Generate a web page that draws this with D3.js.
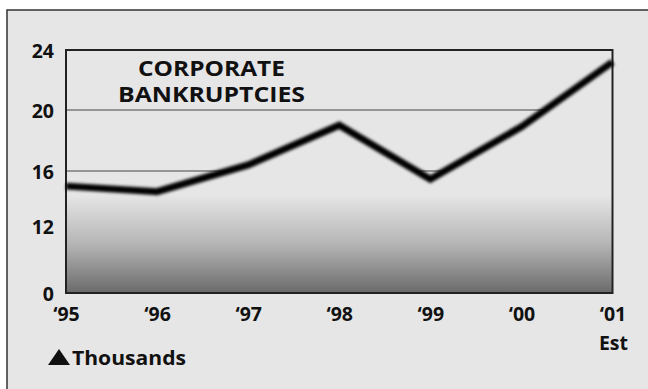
<!DOCTYPE html>
<html>
<head>
<meta charset="utf-8">
<script src="https://cdn.jsdelivr.net/npm/d3@7"></script>
<style>
  html, body { margin: 0; padding: 0; background: #ffffff; }
  svg { display: block; }
  text { font-family: "Open Sans", Lato, "DejaVu Sans", sans-serif; font-weight: 700; fill: #111; }
</style>
</head>
<body>
<svg id="chart" width="648" height="389"></svg>
<script>
// Corporate bankruptcies, thousands
const years = ["\u201895", "\u201896", "\u201897", "\u201898", "\u201899", "\u201800", "\u201801"];
const bankruptcies = [14.9, 14.5, 16.4, 19.0, 15.4, 18.9, 23.2];
// Broken value axis: 0 sits below a compressed 0–12 span
const yTicks = [0, 12, 16, 20, 24];
const gridValues = [16, 20];

const svg = d3.select("#chart");
const W = 648, H = 389;
const plotL = 66, plotR = 612.5, plotT = 50, plotB = 293;
const bg = "#e6e6e6";

// Panel background with frame on the top and left
svg.append("rect").attr("x", 7).attr("y", 10).attr("width", W).attr("height", H)
  .attr("fill", bg);
svg.append("path")
  .attr("d", `M7,${H} L7,10 L${W},10`)
  .attr("fill", "none").attr("stroke", "#333").attr("stroke-width", 1.5);

const x = d3.scalePoint().domain(years).range([plotL, plotR]);
const y = d3.scaleLinear().domain(yTicks).range([plotB, 226, 171, 110, plotT]);

const defs = svg.append("defs");
const grad = defs.append("linearGradient").attr("id", "areaFill")
  .attr("gradientUnits", "userSpaceOnUse")
  .attr("x1", 0).attr("x2", 0).attr("y1", plotT).attr("y2", plotB);
grad.append("stop").attr("offset", 0).attr("stop-color", bg);
grad.append("stop").attr("offset", (195 - plotT) / (plotB - plotT)).attr("stop-color", bg);
grad.append("stop").attr("offset", (245 - plotT) / (plotB - plotT)).attr("stop-color", "#b4b4b4");
grad.append("stop").attr("offset", 1).attr("stop-color", "#6a6a6a");

const blur = defs.append("filter").attr("id", "soft")
  .attr("x", "-5%").attr("y", "-20%").attr("width", "110%").attr("height", "140%");
blur.append("feGaussianBlur").attr("stdDeviation", 1.6);

// Gridlines
svg.append("g").selectAll("line").data(gridValues).join("line")
  .attr("x1", plotL).attr("x2", plotR)
  .attr("y1", d => y(d)).attr("y2", d => y(d))
  .attr("stroke", "#7a7a7a").attr("stroke-width", 1.5);

// Area beneath the line hides the gridlines and carries the shaded band
const area = d3.area()
  .x((d, i) => x(years[i]))
  .y0(plotB)
  .y1(d => y(d));
svg.append("path").datum(bankruptcies)
  .attr("d", area)
  .attr("fill", "url(#areaFill)");

// Plot frame
svg.append("rect")
  .attr("x", plotL).attr("y", plotT)
  .attr("width", plotR - plotL).attr("height", plotB - plotT)
  .attr("fill", "none").attr("stroke", "#222").attr("stroke-width", 2);

// Data line
const line = d3.line()
  .x((d, i) => x(years[i]))
  .y(d => y(d));
svg.append("path").datum(bankruptcies)
  .attr("d", line)
  .attr("fill", "none")
  .attr("stroke", "#000")
  .attr("stroke-width", 7)
  .attr("stroke-linejoin", "miter")
  .attr("filter", "url(#soft)");

// Value axis labels
const yAxis = d3.axisLeft(y).tickValues(yTicks).tickSize(0).tickPadding(12)
  .tickFormat(d3.format("d"));
const gy = svg.append("g").attr("transform", `translate(${plotL},0)`).call(yAxis);
gy.select(".domain").remove();
gy.selectAll("text").attr("font-size", 19.5).attr("font-family", null)
  .attr("fill", "#111").attr("dy", "0.36em");

// Year labels
const xAxis = d3.axisBottom(x).tickSize(0).tickPadding(14);
const gx = svg.append("g").attr("transform", `translate(0,${plotB})`).call(xAxis);
gx.select(".domain").remove();
gx.selectAll("text").attr("font-size", 19.5).attr("font-family", null)
  .attr("fill", "#111").attr("dy", "0.71em");

svg.append("text").attr("x", x(years[years.length - 1]) + 1).attr("y", 350)
  .attr("text-anchor", "middle").attr("font-size", 19.5).text("Est");

// Title
const title = svg.append("text").attr("text-anchor", "middle").attr("font-size", 20.5);
title.append("tspan").attr("x", 211.5).attr("y", 76)
  .attr("textLength", 147).attr("lengthAdjust", "spacingAndGlyphs").text("CORPORATE");
title.append("tspan").attr("x", 211.5).attr("y", 102)
  .attr("textLength", 187).attr("lengthAdjust", "spacingAndGlyphs").text("BANKRUPTCIES");

// Unit note: solid triangle marker followed by the label
const note = svg.append("g").attr("transform", "translate(48,365)");
note.append("path")
  .attr("d", "M0,0 L22,0 L11,-16 Z")
  .attr("fill", "#111");
note.append("text").attr("x", 24).attr("y", 0).attr("font-size", 19.5)
  .attr("textLength", 114).attr("lengthAdjust", "spacingAndGlyphs").text("Thousands");
</script>
</body>
</html>
